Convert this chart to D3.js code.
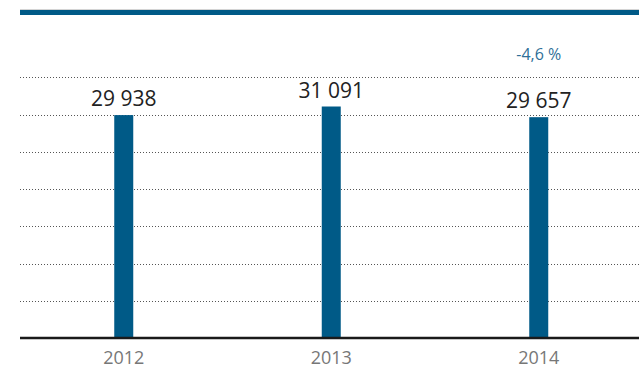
<!DOCTYPE html>
<html>
<head>
<meta charset="utf-8">
<script src="https://cdn.jsdelivr.net/npm/d3@7"></script>
<style>
  body { margin: 0; background: #fff; }
  svg { display: block; font-family: "Open Sans", "Noto Sans", sans-serif; }
</style>
</head>
<body>
<script>
var years = ["2012", "2013", "2014"];
var values = [29938, 31091, 29657];
var valueLabels = ["29 938", "31 091", "29 657"];
var gridTicks = [5000, 10000, 15000, 20000, 25000, 30000, 35000];
var changeLabel = "-4,6 %";

var width = 639, height = 368;
var blue = "#005a87";

var svg = d3.select("body").append("svg")
    .attr("width", width)
    .attr("height", height);

var x = d3.scaleBand()
    .domain(years)
    .range([20, 642.5]);

var y = d3.scaleLinear()
    .domain([0, 35000])
    .range([338, 77.4]);

// header rule
svg.append("rect")
    .attr("x", 20).attr("y", 9)
    .attr("width", width - 20).attr("height", 1)
    .attr("fill", "#d4d4d4");
svg.append("rect")
    .attr("x", 20).attr("y", 10)
    .attr("width", width - 20).attr("height", 5)
    .attr("fill", blue);

// dotted grid
svg.selectAll(".grid")
    .data(gridTicks)
  .enter().append("line")
    .attr("class", "grid")
    .attr("x1", 20).attr("x2", width)
    .attr("y1", d => Math.round(y(d)) + 0.5)
    .attr("y2", d => Math.round(y(d)) + 0.5)
    .attr("stroke", "#555")
    .attr("stroke-width", 1)
    .attr("stroke-dasharray", "1,2");

var barW = 19;

svg.selectAll(".bar")
    .data(values)
  .enter().append("rect")
    .attr("class", "bar")
    .attr("x", (d, i) => x(years[i]) + x.bandwidth() / 2 - barW / 2)
    .attr("y", d => y(d))
    .attr("width", barW)
    .attr("height", d => y(0) - y(d))
    .attr("fill", blue);

// baseline
svg.append("line")
    .attr("x1", 20).attr("x2", width)
    .attr("y1", y(0)).attr("y2", y(0))
    .attr("stroke", "#1a1a1a")
    .attr("stroke-width", 2.5);

// value labels with white background
var lab = svg.selectAll(".vlab")
    .data(values)
  .enter().append("g")
    .attr("class", "vlab")
    .attr("transform", (d, i) => "translate(" + (x(years[i]) + x.bandwidth() / 2) + "," + (y(d) - 9) + ")");

lab.append("rect")
    .attr("x", -36).attr("y", -18)
    .attr("width", 72).attr("height", 22)
    .attr("fill", "#fff");

lab.append("text")
    .attr("text-anchor", "middle")
    .attr("font-size", 21)
    .attr("fill", "#222")
    .text((d, i) => valueLabels[i]);

// change label
svg.append("text")
    .attr("x", x("2014") + x.bandwidth() / 2)
    .attr("y", 60)
    .attr("text-anchor", "middle")
    .attr("font-size", 16)
    .attr("fill", "#2f6f98")
    .text(changeLabel);

// year axis labels
svg.selectAll(".year")
    .data(years)
  .enter().append("text")
    .attr("class", "year")
    .attr("x", d => x(d) + x.bandwidth() / 2)
    .attr("y", 364)
    .attr("text-anchor", "middle")
    .attr("font-size", 18)
    .attr("fill", "#777")
    .text(d => d);
</script>
</body>
</html>
